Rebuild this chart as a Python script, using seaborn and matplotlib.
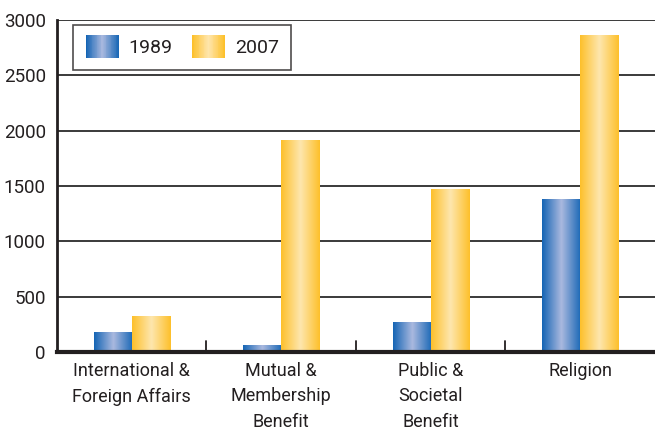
import matplotlib
matplotlib.use("Agg")

import matplotlib.pyplot as plt
import seaborn as sns
import pandas as pd
import numpy as np
from matplotlib.colors import LinearSegmentedColormap
from matplotlib.legend_handler import HandlerBase
from matplotlib.patches import Rectangle

# Data
categories = ["International &\nForeign Affairs", "Mutual &\nMembership\nBenefit",
              "Public &\nSocietal\nBenefit", "Religion"]
years = ["1989", "2007"]
values_1989 = [180, 55, 270, 1380]
values_2007 = [325, 1910, 1470, 2865]

df = pd.DataFrame({
    "category": categories * 2,
    "year": [years[0]] * 4 + [years[1]] * 4,
    "value": values_1989 + values_2007,
})

# Gradient colour maps (dark edges, light centre)
cmaps = {
    "1989": LinearSegmentedColormap.from_list("b", ["#1464b4", "#aab9df", "#1a68b6"]),
    "2007": LinearSegmentedColormap.from_list("y", ["#fdc02a", "#fee6ae", "#fdc02a"]),
}
grad = np.linspace(0, 1, 256).reshape(1, -1)

sns.set_theme(style="white")
plt.rcParams["font.family"] = ["Roboto", "DejaVu Sans"]

fig = plt.figure(figsize=(6.55, 4.37), dpi=100)
ax = fig.add_axes([0.087, 0.1945, 0.913, 0.7595])

sns.barplot(data=df, x="category", y="value", hue="year", width=0.51, gap=0,
            palette=["#1464b4", "#fdc02a"], legend=False, ax=ax, zorder=3)

# replace flat bars with horizontal gradients
for i, p in enumerate(ax.patches):
    year = years[i // len(categories)]
    x0, w, h = p.get_x(), p.get_width(), p.get_height()
    ax.imshow(grad, extent=[x0, x0 + w, 0, h], aspect="auto",
              cmap=cmaps[year], zorder=3, interpolation="bilinear")
    p.set_visible(False)

ax.set_xlim(-0.5, 3.5)
ax.set_ylim(0, 3000)
ax.set_aspect("auto")
ax.set_xlabel("")
ax.set_ylabel("")

# grid lines
ax.set_yticks(range(0, 3001, 500))
for yv in range(500, 3001, 500):
    ax.axhline(yv, color="#3a3a3a", lw=1.4, zorder=1)
ax.tick_params(axis="y", length=0, labelsize=13.5, pad=8, labelcolor="#231f20")

# category ticks: labels at centres, marks at boundaries pointing up
ax.set_xticks(range(4))
ax.set_xticklabels(categories, fontsize=13, color="#231f20", linespacing=1.55)
ax.tick_params(axis="x", length=0, pad=7)
for xb in [0.5, 1.5, 2.5]:
    ax.plot([xb, xb], [0, 95], color="#231f20", lw=1.3, zorder=2, clip_on=False)

for s in ["top", "right"]:
    ax.spines[s].set_visible(False)
ax.spines["left"].set_color("#231f20")
ax.spines["left"].set_linewidth(2)
ax.spines["bottom"].set_color("#231f20")
ax.spines["bottom"].set_linewidth(3)
ax.spines["bottom"].set_zorder(4)


class GradientHandler(HandlerBase):
    def __init__(self, cmap):
        super().__init__()
        self.cmap = cmap

    def create_artists(self, legend, orig_handle, xdescent, ydescent,
                       width, height, fontsize, trans):
        n = 40
        strips = []
        for k in range(n):
            strips.append(Rectangle((-xdescent + width * k / n, -ydescent - 2),
                                    width / n * 1.05, height + 4,
                                    facecolor=self.cmap(k / (n - 1)), lw=0,
                                    transform=trans))
        return strips


h1 = Rectangle((0, 0), 1, 1)
h2 = Rectangle((0, 0), 1, 1)
leg = ax.legend([h1, h2], years, ncol=2, loc="upper left",
                bbox_to_anchor=(0.027, 0.985), frameon=True, fancybox=False,
                fontsize=14, handlelength=1.7, handleheight=1.0,
                handletextpad=0.5, columnspacing=1.0, borderpad=0.65,
                borderaxespad=0,
                handler_map={h1: GradientHandler(cmaps["1989"]),
                             h2: GradientHandler(cmaps["2007"])})
leg.get_frame().set_edgecolor("#231f20")
leg.get_frame().set_linewidth(1.2)
for t in leg.get_texts():
    t.set_color("#231f20")
leg.set_zorder(5)

fig.savefig("out.png", dpi=100)
